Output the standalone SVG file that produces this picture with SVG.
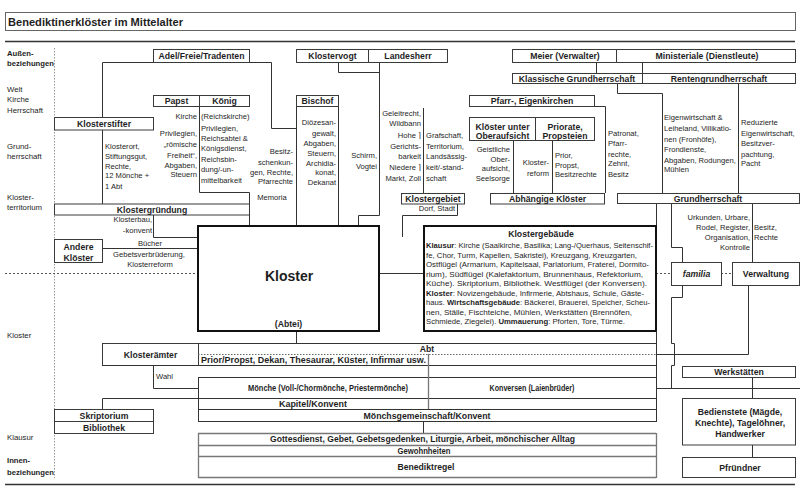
<svg xmlns="http://www.w3.org/2000/svg" width="805" height="498" viewBox="0 0 805 498">
<style>
text{font-family:"Liberation Sans",Arial,"DejaVu Sans",sans-serif;fill:#1e1e1e}
.lb{font-size:8.7px;font-weight:bold;text-anchor:middle}
.tx{font-size:7.6px}
.e{text-anchor:end}
.m{text-anchor:middle}
.b{font-weight:bold}
.bx{fill:#fff;stroke:#3a3a3a;stroke-width:1}
.tk{fill:#fff;stroke:#111;stroke-width:2}
.ln{fill:none;stroke:#333;stroke-width:1}
.gr{fill:none;stroke:#777;stroke-width:1.3}
.ds{fill:none;stroke:#555;stroke-width:1;stroke-dasharray:2 2}
.dt{fill:none;stroke:#999;stroke-width:1;stroke-dasharray:1.5 1.5}
.lab{font-size:7.8px}
.labb{font-size:7.7px;font-weight:bold}
</style>
<rect width="805" height="498" fill="#fff"/>

<g id="title">
<rect x="5.5" y="12.5" width="790" height="18" fill="#fff" stroke="#666"/>
<text x="8" y="25.5" style="font-size:10.5px;font-weight:bold" textLength="175" lengthAdjust="spacingAndGlyphs">Benediktinerklöster im Mittelalter</text>
</g>

<g id="frame">
<path class="ln" d="M5,41.5 H795 M5,484.5 H795" style="stroke-width:1.3"/>
<path class="dt" d="M54.5,48 V478"/>
<path class="ds" d="M5,273.5 H198 M656,273.5 H671 M721,273.5 H732"/>
</g>

<g id="side-labels">
<text class="labb" x="7" y="56">Außen-</text>
<text class="labb" x="7" y="66">beziehungen</text>
<text class="lab" x="7" y="92">Welt</text>
<text class="lab" x="7" y="102">Kirche</text>
<text class="lab" x="7" y="113">Herrschaft</text>
<text class="lab" x="7" y="149">Grund-</text>
<text class="lab" x="7" y="159">herrschaft</text>
<text class="lab" x="7" y="200">Kloster-</text>
<text class="lab" x="7" y="210">territorium</text>
<text class="lab" x="7" y="338">Kloster</text>
<text class="lab" x="7" y="440">Klausur</text>
<text class="labb" x="7" y="463">Innen-</text>
<text class="labb" x="7" y="475">beziehungen</text>
</g>

<g id="connectors">
<path class="ln" d="M153,62.5 H102.5 V117"/>
<path class="ln" d="M102.5,130 V204"/>
<path class="ln" d="M249,62.5 H271.5 V128.5 H296.5"/>
<path class="ln" d="M296.5,106 V226 M338.5,106 V226"/>
<path class="ln" d="M199.5,106 V192.5 H249.5 V226"/>
<path class="ln" d="M338.5,62 V72.5 H379.5"/>
<path class="ln" d="M379.5,62 V215.5 H358.5 V226"/>
<path class="ln" d="M423.5,108 V193"/>
<path class="ln" d="M457.5,204 V215.5 H402.5 V237"/>
<path class="ln" d="M379,273.5 H424"/>
<path class="ln" d="M513.5,140 V193 M552.5,140 V193"/>
<path class="ln" d="M594,106.5 H605.5 V193"/>
<path class="ln" d="M596.5,62 V73 M642.5,62 V73"/>
<path class="ln" d="M617.5,83 V93.5 H662.5 V193"/>
<path class="ln" d="M738.5,83 V193"/>
<path class="ln" d="M656.5,203 V226"/>
<path class="ln" d="M671.5,203 V247.5 H682.5 V262"/>
<path class="ln" d="M682.5,285 V297.5 H671.5 V343.5 H674.5 V365.5 H671.5 V388.5"/>
<path class="ln" d="M656,388.5 H800"/>
<path class="ln" d="M752.5,203 V262"/>
<path class="ln" d="M748.5,285 V354.5 H656"/>
<path class="ln" d="M752.5,377 V398 M752.5,445 V457"/>
<path class="ln" d="M102,248.5 H198"/>
<path class="ln" d="M153.5,215 V237.5 H198"/>
<path class="ln" d="M296.5,331 V343"/>
<path class="ln" d="M153.5,365 V388.5 H198"/>
<path class="ln" d="M102.5,409 V398.5 H198"/>
<path class="ln" d="M423.5,421 V433"/>
</g>

<g id="adel"><rect class="bx" x="153.5" y="49.5" width="96" height="13"/><text class="lb" x="201.5" y="59">Adel/Freie/Tradenten</text></g>
<g id="klostervogt"><rect class="bx" x="296.5" y="49.5" width="72" height="13"/><text class="lb" x="332.5" y="59">Klostervogt</text></g>
<g id="landesherr"><rect class="bx" x="368.5" y="49.5" width="79" height="13"/><text class="lb" x="408" y="59">Landesherr</text></g>
<g id="meier"><rect class="bx" x="512.5" y="49.5" width="104" height="13"/><text class="lb" x="565" y="59">Meier (Verwalter)</text></g>
<g id="ministeriale"><rect class="bx" x="616.5" y="49.5" width="179" height="13"/><text class="lb" x="707" y="59">Ministeriale (Dienstleute)</text></g>
<g id="klassische"><rect class="bx" x="512.5" y="73.5" width="130" height="10"/><text class="lb" x="577" y="81.5">Klassische Grundherrschaft</text></g>
<g id="renten"><rect class="bx" x="642.5" y="73.5" width="153" height="10"/><text class="lb" x="719" y="81.5">Rentengrundherrschaft</text></g>

<g id="papst"><rect class="bx" x="153.5" y="95.5" width="46" height="11"/><text class="lb" x="176.5" y="104">Papst</text>
<text class="tx e" x="197" y="119">Kirche</text>
<text class="tx e" x="197" y="136">Privilegien,</text>
<text class="tx e" x="197" y="147">„römische</text>
<text class="tx e" x="197" y="158">Freiheit“,</text>
<text class="tx e" x="197" y="168">Abgaben,</text>
<text class="tx e" x="197" y="177">Steuern</text>
</g>
<g id="koenig"><rect class="bx" x="199.5" y="95.5" width="50" height="11"/><text class="lb" x="224.5" y="104">König</text>
<text class="tx" x="201" y="119">(Reichskirche)</text>
<text class="tx" x="201" y="131">Privilegien,</text>
<text class="tx" x="201" y="141">Reichsabtei &amp;</text>
<text class="tx" x="201" y="151">Königsdienst,</text>
<text class="tx" x="201" y="162">Reichsbin-</text>
<text class="tx" x="201" y="172">dung/-un-</text>
<text class="tx" x="201" y="183">mittelbarkeit</text>
</g>
<g id="besitz">
<text class="tx e" x="293" y="154">Besitz-</text>
<text class="tx e" x="293" y="165">schenkun-</text>
<text class="tx e" x="293" y="175">gen, Rechte,</text>
<text class="tx e" x="293" y="184">Pfarrechte</text>
<text class="tx m" x="272" y="200">Memoria</text>
</g>
<g id="bischof"><rect class="bx" x="296.5" y="95.5" width="42" height="11"/><text class="lb" x="317.5" y="104">Bischof</text>
<text class="tx e" x="336" y="125">Diözesan-</text>
<text class="tx e" x="336" y="136">gewalt,</text>
<text class="tx e" x="336" y="146">Abgaben,</text>
<text class="tx e" x="336" y="156">Steuern,</text>
<text class="tx e" x="336" y="166">Archidia-</text>
<text class="tx e" x="336" y="175">konat,</text>
<text class="tx e" x="336" y="185">Dekanat</text>
</g>
<g id="vogtei">
<text class="tx e" x="377" y="158">Schirm,</text>
<text class="tx e" x="377" y="169">Vogtei</text>
<text class="tx e" x="421" y="116">Geleitrecht,</text>
<text class="tx e" x="421" y="126">Wildbann</text>
<text class="tx e" x="421" y="138">Hohe ⌉</text>
<text class="tx e" x="421" y="149">Gerichts-</text>
<text class="tx e" x="421" y="159">barkeit</text>
<text class="tx e" x="421" y="170">Niedere ⌉</text>
<text class="tx e" x="421" y="181">Markt, Zoll</text>
<text class="tx" x="426" y="138">Grafschaft,</text>
<text class="tx" x="426" y="149">Territorium,</text>
<text class="tx" x="426" y="159">Landsässig-</text>
<text class="tx" x="426" y="170">keit/-stand-</text>
<text class="tx" x="426" y="181">schaft</text>
</g>

<g id="pfarr"><rect class="bx" x="469.5" y="95.5" width="125" height="11"/><text class="lb" x="532" y="104">Pfarr-, Eigenkirchen</text>
<text class="tx" x="608" y="136">Patronat,</text>
<text class="tx" x="608" y="146">Pfarr-</text>
<text class="tx" x="608" y="157">rechte,</text>
<text class="tx" x="608" y="166">Zehnt,</text>
<text class="tx" x="608" y="177">Besitz</text>
</g>
<g id="oberaufsicht"><rect class="bx" x="469.5" y="117.5" width="66" height="23"/>
<text class="lb" x="502.5" y="129.5">Klöster unter</text><text class="lb" x="502.5" y="139">Oberaufsicht</text>
<text class="tx e" x="510" y="152">Geistliche</text>
<text class="tx e" x="510" y="162">Ober-</text>
<text class="tx e" x="510" y="171">aufsicht,</text>
<text class="tx e" x="510" y="181">Seelsorge</text>
<text class="tx e" x="549" y="165">Kloster-</text>
<text class="tx e" x="549" y="176">reform</text>
</g>
<g id="priorate"><rect class="bx" x="535.5" y="117.5" width="59" height="23"/>
<text class="lb" x="565" y="129.5">Priorate,</text><text class="lb" x="565" y="139">Propsteien</text>
<text class="tx" x="555" y="158">Prior,</text>
<text class="tx" x="555" y="168">Propst,</text>
<text class="tx" x="555" y="177">Besitzrechte</text>
</g>

<g id="grundherrschaft-text">
<text class="tx" x="664" y="120">Eigenwirtschaft &amp;</text>
<text class="tx" x="664" y="131">Leiheland, Villikatio-</text>
<text class="tx" x="664" y="142">nen (Fronhöfe),</text>
<text class="tx" x="664" y="152">Frondienste,</text>
<text class="tx" x="664" y="163">Abgaben, Rodungen,</text>
<text class="tx" x="664" y="172">Mühlen</text>
<text class="tx" x="741" y="125">Reduzierte</text>
<text class="tx" x="741" y="136">Eigenwirtschaft,</text>
<text class="tx" x="741" y="146">Besitzver-</text>
<text class="tx" x="741" y="157">pachtung,</text>
<text class="tx" x="741" y="166">Pacht</text>
</g>

<g id="klosterstifter"><rect class="bx" x="54.5" y="117.5" width="99" height="12.5"/><text class="lb" x="104" y="127">Klosterstifter</text>
<text class="tx" x="105" y="149">Klosterort,</text>
<text class="tx" x="105" y="159">Stiftungsgut,</text>
<text class="tx" x="105" y="169">Rechte,</text>
<text class="tx" x="105" y="178">12 Mönche +</text>
<text class="tx" x="105" y="189">1 Abt</text>
</g>

<g id="klostergebiet"><rect class="bx" x="401.5" y="193.5" width="63" height="10.5"/><text class="lb" x="433" y="201.5">Klostergebiet</text>
<text class="tx e" x="455" y="211">Dorf, Stadt</text></g>
<g id="abhaengige"><rect class="bx" x="490.5" y="193.5" width="114" height="10.5"/><text class="lb" x="547.5" y="201.5">Abhängige Klöster</text></g>
<g id="grundherrschaft"><rect class="bx" x="617.5" y="193.5" width="182" height="10"/><text class="lb" x="708" y="201.5">Grundherrschaft</text>
<text class="tx e" x="750" y="220">Urkunden, Urbare,</text>
<text class="tx e" x="750" y="230">Rodel, Register,</text>
<text class="tx e" x="750" y="240">Organisation,</text>
<text class="tx e" x="750" y="250">Kontrolle</text>
<text class="tx" x="754" y="230">Besitz,</text>
<text class="tx" x="754" y="240">Rechte</text>
</g>

<g id="klostergruendung"><rect class="bx" x="54.5" y="204" width="195" height="11"/><text class="lb" x="152" y="212.5">Klostergründung</text>
<text class="tx e" x="152" y="222">Klosterbau,</text>
<text class="tx e" x="152" y="233">-konvent</text>
</g>
<g id="andere"><rect class="bx" x="54.5" y="239.5" width="48" height="23"/>
<text class="lb" x="78.5" y="249.5">Andere</text><text class="lb" x="78.5" y="260.5">Klöster</text>
<text class="tx m" x="150" y="246">Bücher</text>
<text class="tx m" x="149" y="257">Gebetsverbrüderung,</text>
<text class="tx m" x="150" y="267">Klosterreform</text>
</g>

<g id="kloster"><rect class="tk" x="198" y="226" width="181" height="105"/>
<text class="lb" x="289" y="281" style="font-size:14px">Kloster</text>
<text class="lb" x="288.5" y="327">(Abtei)</text></g>

<g id="klostergebaeude"><rect class="tk" x="424" y="226" width="232" height="105"/>
<text class="lb" x="541" y="236.5">Klostergebäude</text>
<g style="font-size:7.8px">
<text x="426" y="248" textLength="227" lengthAdjust="spacingAndGlyphs"><tspan class="b">Klausur</tspan>: Kirche (Saalkirche, Basilika; Lang-/Querhaus, Seitenschif-</text>
<text x="426" y="257.5" textLength="211" lengthAdjust="spacingAndGlyphs">fe, Chor, Turm, Kapellen, Sakristei), Kreuzgang, Kreuzgarten,</text>
<text x="426" y="267" textLength="223" lengthAdjust="spacingAndGlyphs">Ostflügel (Armarium, Kapitelsaal, Parlatorium, Fraterei, Dormito-</text>
<text x="426" y="276.5" textLength="217" lengthAdjust="spacingAndGlyphs">rium), Südflügel (Kalefaktorium, Brunnenhaus, Refektorium,</text>
<text x="426" y="286" textLength="221" lengthAdjust="spacingAndGlyphs">Küche). Skriptorium, Bibliothek. Westflügel (der Konversen).</text>
<text x="426" y="295.5" textLength="218" lengthAdjust="spacingAndGlyphs"><tspan class="b">Kloster</tspan>: Novizengebäude, Infirmerie, Abtshaus, Schule, Gäste-</text>
<text x="426" y="305" textLength="224" lengthAdjust="spacingAndGlyphs">haus. <tspan class="b">Wirtschaftsgebäude</tspan>: Bäckerei, Brauerei, Speicher, Scheu-</text>
<text x="426" y="314.5" textLength="206" lengthAdjust="spacingAndGlyphs">nen, Ställe, Fischteiche, Mühlen, Werkstätten (Brennöfen,</text>
<text x="426" y="324" textLength="199" lengthAdjust="spacingAndGlyphs">Schmiede, Ziegelei). <tspan class="b">Ummauerung</tspan>: Pforten, Tore, Türme.</text>
</g></g>

<g id="familia"><rect class="bx" x="671.5" y="262.5" width="50" height="23"/><text class="lb" x="696.5" y="277" style="font-style:italic">familia</text></g>
<g id="verwaltung"><rect class="bx" x="732.5" y="262.5" width="67" height="23"/><text class="lb" x="766" y="277">Verwaltung</text></g>

<g id="klosteraemter"><rect class="bx" x="102.5" y="343.5" width="96" height="22"/><text class="lb" x="150.5" y="357.5">Klosterämter</text>
<text class="tx" x="156" y="379">Wahl</text></g>

<g id="bars">
<path class="ln" d="M198,343.5 H656 M102,365.5 H656 M198,377.5 H656 M198,398.5 H656 M198,409.5 H656 M198,421.5 H656"/>
<path class="dt" d="M198,354.5 H656" style="stroke:#666"/>
<path class="gr" d="M198,433.5 H656 M198,445.5 H656 M198,456.5 H656 M198,477.5 H656"/>
<path class="ln" d="M198.5,377 V422 M656.5,331 V422"/>
<path class="gr" d="M198.5,433 V478 M656.5,433 V478 M428.5,354 V409"/>
</g>
<g id="abt"><text class="lb" x="427" y="351.5">Abt</text></g>
<g id="prior"><text class="lb" x="201" y="362.5" style="text-anchor:start" textLength="225" lengthAdjust="spacingAndGlyphs">Prior/Propst, Dekan, Thesaurar, Küster, Infirmar usw.</text></g>
<g id="moenche"><text class="lb" x="328" y="390.5" textLength="160" lengthAdjust="spacingAndGlyphs">Mönche (Voll-/Chormönche, Priestermönche)</text></g>
<g id="konversen"><text class="lb" x="532" y="390.5" textLength="85" lengthAdjust="spacingAndGlyphs">Konversen (Laienbrüder)</text></g>
<g id="kapitel"><text class="lb" x="313" y="406.5" textLength="68" lengthAdjust="spacingAndGlyphs">Kapitel/Konvent</text></g>
<g id="gemeinschaft"><text class="lb" x="427" y="418.5" textLength="127" lengthAdjust="spacingAndGlyphs">Mönchsgemeinschaft/Konvent</text></g>
<g id="gottesdienst"><text class="lb" x="422.5" y="442" textLength="305" lengthAdjust="spacingAndGlyphs">Gottesdienst, Gebet, Gebetsgedenken, Liturgie, Arbeit, mönchischer Alltag</text></g>
<g id="gewohnheiten"><text class="lb" x="424" y="453.5" textLength="53" lengthAdjust="spacingAndGlyphs">Gewohnheiten</text></g>
<g id="benediktregel"><text class="lb" x="426" y="469.5" textLength="57" lengthAdjust="spacingAndGlyphs">Benediktregel</text></g>

<g id="skriptorium"><rect class="bx" x="54.5" y="409.5" width="99" height="12"/><text class="lb" x="104" y="418.5">Skriptorium</text></g>
<g id="bibliothek"><rect class="bx" x="54.5" y="421.5" width="99" height="12"/><text class="lb" x="104" y="430.5">Bibliothek</text></g>

<g id="werkstaetten"><rect class="bx" x="682.5" y="366.5" width="113" height="11"/><text class="lb" x="739" y="375">Werkstätten</text></g>
<g id="bedienstete"><rect class="bx" x="682.5" y="398.5" width="113" height="46.5"/>
<text class="lb" x="740" y="414.5">Bedienstete (Mägde,</text>
<text class="lb" x="740" y="425.5">Knechte), Tagelöhner,</text>
<text class="lb" x="740" y="436.5">Handwerker</text></g>
<g id="pfruendner"><rect class="bx" x="682.5" y="457.5" width="113" height="20"/><text class="lb" x="740" y="470.5">Pfründner</text></g>
</svg>
